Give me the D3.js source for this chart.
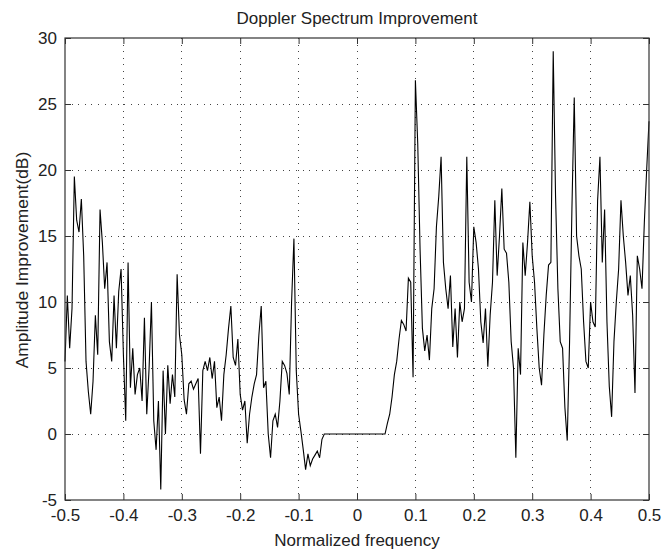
<!DOCTYPE html>
<html>
<head>
<meta charset="utf-8">
<script src="https://d3js.org/d3.v7.min.js"></script>
<style>
  body { margin: 0; background: #fff; }
  svg text { font-family: "Liberation Sans", Arial, sans-serif; fill: #222; }
</style>
</head>
<body>
<svg id="vis"></svg>
<script>
  // spectrum samples, one every 0.004 of normalized frequency starting at -0.5
  var freqStart = -0.5, freqStep = 0.004;
  var amplitudeDb = [
    5.5, 10.5, 6.5, 9.5, 19.5, 16.2, 15.3, 17.8, 13.5, 5.5,
    3.2, 1.5, 4, 9, 6, 17, 14.5, 11, 13, 7,
    5.5, 10.5, 6.5, 10.8, 12.5, 6, 1, 13, 3.5, 6.5,
    3, 4.5, 5, 2.5, 8.8, 1.5, 5, 10, 1, -1.2,
    2.5, -4.2, 4.8, 0, 5.2, 2.3, 4.5, 2.8, 12.1, 7.5,
    6, 2.6, 1.5, 3.8, 4, 3.4, 3.8, 4.2, -1.5, 4.8,
    5.5, 4.8, 5.8, 4.2, 5.5, 2, 2.8, 1, 4.5, 6,
    8, 9.7, 5.8, 5.2, 7.2, 3, 1.8, 2.5, -0.7, 1.5,
    2.8, 3.8, 4.5, 7.5, 9.7, 3.5, 4, 0, -1.8, 1,
    1.5, 0.5, 2.5, 5.5, 5.2, 4.6, 3, 10, 14.8, 4.8,
    1.5, 0.2, -1.2, -2.7, -1.5, -2.4, -1.9, -1.6, -1.3, -1.8,
    -0.4, 0, 0, 0, 0, 0, 0, 0, 0, 0,
    0, 0, 0, 0, 0, 0, 0, 0, 0, 0,
    0, 0, 0, 0, 0, 0, 0, 0, 0.8, 1.5,
    2.8, 4.5, 5.5, 7.2, 8.6, 8.3, 7.8, 11.8, 11.5, 4.3,
    26.8, 22, 14, 8, 6.3, 7.5, 5.6, 9.5, 11, 15.7,
    18, 21, 13, 11, 9.5, 12, 6.6, 9.5, 5.8, 10,
    8.5, 9.5, 21, 11.5, 10, 15.7, 14.5, 12.5, 8.5, 6.9,
    9.5, 5.1, 9, 11.5, 17.7, 12, 15, 18.6, 14, 13.7,
    11.5, 7, 5, -1.8, 6.5, 4.5, 14.5, 12, 14.5, 17.6,
    13.5, 11.5, 8, 5, 3.7, 7.5, 10.5, 12.8, 13, 29,
    18, 11, 7, 6.5, 2, -0.5, 7, 17, 25.5, 15,
    13.5, 12.5, 8.5, 5.5, 5, 10, 8.5, 8.1, 17.7, 21,
    13, 17, 8.5, 3.6, 1.3, 7, 10, 12.5, 17.7, 15,
    13, 10.5, 12, 9, 3.1, 13.5, 12.5, 11, 16, 20, 23.7
  ];

  var xTicks = [-0.5, -0.4, -0.3, -0.2, -0.1, 0, 0.1, 0.2, 0.3, 0.4, 0.5];
  var yTicks = [-5, 0, 5, 10, 15, 20, 25, 30];

  var titleText = 'Doppler Spectrum Improvement';
  var xLabelText = 'Normalized frequency';
  var yLabelText = 'Amplitude Improvement(dB)';

  var W = 665, H = 552;
  var plotLeft = 65, plotRight = 649, plotTop = 38, plotBottom = 500;

  var svg = d3.select('#vis')
      .attr('width', W)
      .attr('height', H);

  var xScale = d3.scaleLinear()
      .domain([-0.5, 0.5])
      .range([plotLeft, plotRight]);

  var yScale = d3.scaleLinear()
      .domain([-5, 30])
      .range([plotBottom, plotTop]);

  // dotted grid
  svg.append('g').selectAll('line')
      .data(xTicks.slice(1, -1))
      .enter().append('line')
      .attr('x1', function(d) {return xScale(d);})
      .attr('x2', function(d) {return xScale(d);})
      .attr('y1', plotTop)
      .attr('y2', plotBottom)
      .attr('stroke', '#444')
      .attr('stroke-width', 1)
      .attr('stroke-dasharray', '1,5.6')
      .attr('shape-rendering', 'crispEdges');

  svg.append('g').selectAll('line')
      .data(yTicks.slice(1, -1))
      .enter().append('line')
      .attr('y1', function(d) {return yScale(d);})
      .attr('y2', function(d) {return yScale(d);})
      .attr('x1', plotLeft)
      .attr('x2', plotRight)
      .attr('stroke', '#444')
      .attr('stroke-width', 1)
      .attr('stroke-dasharray', '1,5.6')
      .attr('shape-rendering', 'crispEdges');

  // spectrum line
  var line = d3.line()
      .x(function(d, i) {return xScale(freqStart + i * freqStep);})
      .y(function(d) {return yScale(d);});

  svg.append('path')
      .datum(amplitudeDb)
      .attr('d', line)
      .attr('fill', 'none')
      .attr('stroke', '#000')
      .attr('stroke-width', 1.1);

  // axes with inward ticks on all four sides
  var fmt = function(d) {return String(d);};

  svg.append('g')
      .attr('transform', 'translate(0,' + plotBottom + ')')
      .call(d3.axisBottom(xScale).tickValues(xTicks).tickFormat(fmt)
          .tickSizeInner(-6).tickSizeOuter(0).tickPadding(9));

  svg.append('g')
      .attr('transform', 'translate(0,' + plotTop + ')')
      .call(d3.axisTop(xScale).tickValues(xTicks).tickFormat('')
          .tickSizeInner(-6).tickSizeOuter(0));

  svg.append('g')
      .attr('transform', 'translate(' + plotLeft + ',0)')
      .call(d3.axisLeft(yScale).tickValues(yTicks).tickFormat(fmt)
          .tickSizeInner(-6).tickSizeOuter(0).tickPadding(8));

  svg.append('g')
      .attr('transform', 'translate(' + plotRight + ',0)')
      .call(d3.axisRight(yScale).tickValues(yTicks).tickFormat('')
          .tickSizeInner(-6).tickSizeOuter(0));

  svg.selectAll('.domain').remove();
  svg.selectAll('.tick line').attr('stroke', '#333');
  svg.selectAll('.tick text')
      .attr('font-size', 17)
      .attr('font-family', '"Liberation Sans", Arial, sans-serif')
      .attr('fill', '#222');

  svg.append('rect')
      .attr('x', plotLeft)
      .attr('y', plotTop)
      .attr('width', plotRight - plotLeft)
      .attr('height', plotBottom - plotTop)
      .attr('fill', 'none')
      .attr('stroke', '#333')
      .attr('stroke-width', 1.2);

  // labels
  svg.append('text')
      .attr('x', (plotLeft + plotRight) / 2)
      .attr('y', 24)
      .attr('text-anchor', 'middle')
      .attr('font-size', 17)
      .text(titleText);

  svg.append('text')
      .attr('x', (plotLeft + plotRight) / 2)
      .attr('y', 546)
      .attr('text-anchor', 'middle')
      .attr('font-size', 17)
      .text(xLabelText);

  svg.append('text')
      .attr('transform', 'translate(28,260) rotate(-90)')
      .attr('text-anchor', 'middle')
      .attr('font-size', 17.4)
      .text(yLabelText);
</script>
</body>
</html>
